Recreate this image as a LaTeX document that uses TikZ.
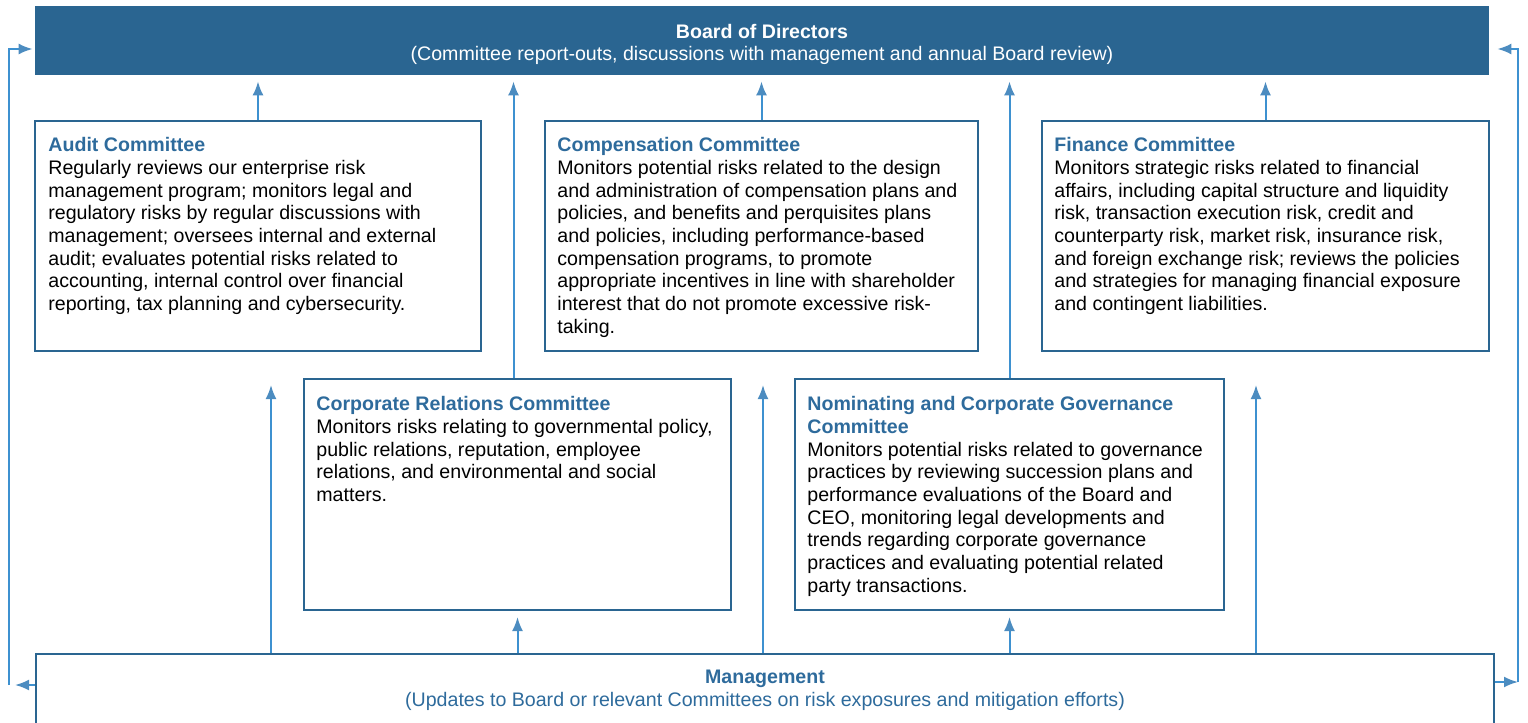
\documentclass[tikz,border=0pt]{standalone}
\usepackage{fontspec}
\setmainfont{Liberation Sans}
\usetikzlibrary{positioning,arrows.meta}
\definecolor{boardblue}{RGB}{42,101,145}
\definecolor{titleblue}{RGB}{46,107,156}
\definecolor{linkblue}{RGB}{62,145,208}
\definecolor{tipblue}{RGB}{76,140,192}
\newcommand{\boxtitle}[1]{\textcolor{titleblue}{\bfseries #1}}

\begin{document}
\begin{tikzpicture}[x=0.5pt ,y=-0.5pt ,
font=\fontsize{9.8}{11.35}\selectfont ,
box/.style ={draw=boardblue ,line width=1pt ,inner sep=0pt},
board/.style ={fill=boardblue ,inner sep=0pt ,
 minimum width=727pt ,minimum height=34.5pt},
body/.style ={align=left ,inner sep=0pt},
link/.style ={draw=linkblue ,line width=1pt},
up/.style ={link ,-{Latex[length=7pt ,width=5.5pt ,color=tipblue]} ,shorten >=3pt}]
\clip (0,0) rectangle (1528,723);

% board and management
\node[board] (board) at (762,40.5) {};
\node[body ,align=center ,text=white ,below=9pt of board.north] (board txt)
 {\textbf{Board of Directors}\\
 (Committee report-outs, discussions with management and annual Board review)};
\node[box ,minimum width=729pt ,minimum height=50pt ,anchor=north] (mgmt) at (765,653) {};
\node[body ,align=center ,text=titleblue ,below=8.5pt of mgmt.north] (mgmt txt)
 {\textbf{Management}\\
 (Updates to Board or relevant Committees on risk exposures and mitigation efforts)};

% committees, top row
\node[box ,minimum width=223pt ,minimum height=115pt] (audit) at (258,236) {};
\node[box ,minimum width=216.5pt ,minimum height=115pt] (comp) at (761.5,236) {};
\node[box ,minimum width=223.5pt ,minimum height=115pt] (fin) at (1265.5,236) {};
% committees, middle row
\node[box ,minimum width=213.5pt ,minimum height=115.5pt] (corp) at (517.5,494.5) {};
\node[box ,minimum width=214.5pt ,minimum height=115.5pt] (nom) at (1009.5,494.5) {};

\node[body ,below right=8.5pt and 7pt of audit.north west] (audit txt)
 {\boxtitle{Audit Committee}\\
 Regularly reviews our enterprise risk\\
 management program; monitors legal and\\
 regulatory risks by regular discussions with\\
 management; oversees internal and external\\
 audit; evaluates potential risks related to\\
 accounting, internal control over financial\\
 reporting, tax planning and cybersecurity.};
\node[body ,below right=8.5pt and 6.5pt of comp.north west] (comp txt)
 {\boxtitle{Compensation Committee}\\
 Monitors potential risks related to the design\\
 and administration of compensation plans and\\
 policies, and benefits and perquisites plans\\
 and policies, including performance-based\\
 compensation programs, to promote\\
 appropriate incentives in line with shareholder\\
 interest that do not promote excessive risk-\\
 taking.};
\node[body ,below right=8.5pt and 6.5pt of fin.north west] (fin txt)
 {\boxtitle{Finance Committee}\\
 Monitors strategic risks related to financial\\
 affairs, including capital structure and liquidity\\
 risk, transaction execution risk, credit and\\
 counterparty risk, market risk, insurance risk,\\
 and foreign exchange risk; reviews the policies\\
 and strategies for managing financial exposure\\
 and contingent liabilities.};
\node[body ,below right=9pt and 6.5pt of corp.north west] (corp txt)
 {\boxtitle{Corporate Relations Committee}\\
 Monitors risks relating to governmental policy,\\
 public relations, reputation, employee\\
 relations, and environmental and social\\
 matters.};
\node[body ,below right=9pt and 6.5pt of nom.north west] (nom txt)
 {\boxtitle{Nominating and Corporate Governance}\\
 \boxtitle{Committee}\\
 Monitors potential risks related to governance\\
 practices by reviewing succession plans and\\
 performance evaluations of the Board and\\
 CEO, monitoring legal developments and\\
 trends regarding corporate governance\\
 practices and evaluating potential related\\
 party transactions.};

% reports up to the board
\draw[up] (audit.north) -- (audit.north |- board.south);
\draw[up] (comp.north) -- (comp.north |- board.south);
\draw[up] (fin.north) -- (fin.north |- board.south);
\draw[up] ([xshift=-2pt]corp.north) -- ([xshift=-2pt]corp.north |- board.south);
\draw[up] (nom.north) -- (nom.north |- board.south);

% updates from management
\draw[up] (corp.south |- mgmt.north) -- (corp.south);
\draw[up] (nom.south |- mgmt.north) -- (nom.south);
\draw[up ,shorten >=16.5pt] ([xshift=6.5pt]audit.south |- mgmt.north) -- ([xshift=6.5pt]audit.south);
\draw[up ,shorten >=16.5pt] ([xshift=0.75pt]comp.south |- mgmt.north) -- ([xshift=0.75pt]comp.south);
\draw[up ,shorten >=16.5pt] ([xshift=-4.75pt]fin.south |- mgmt.north) -- ([xshift=-4.75pt]fin.south);

% side loops
\coordinate (lb) at (9,685);
\coordinate (lt) at (9,49);
\coordinate (rb) at (1518,682);
\coordinate (rt) at (1518,49);
\draw[up] (mgmt.west |- lb) -- (lb);
\draw[up ,shorten >=1pt] (lb) -- (lt) -- (board.west |- lt);
\draw[up ,shorten >=0pt] (mgmt.east |- rb) -- (rb);
\draw[up ,shorten >=4pt] (rb) -- (rt) -- (board.east |- rt);
\end{tikzpicture}
\end{document}
